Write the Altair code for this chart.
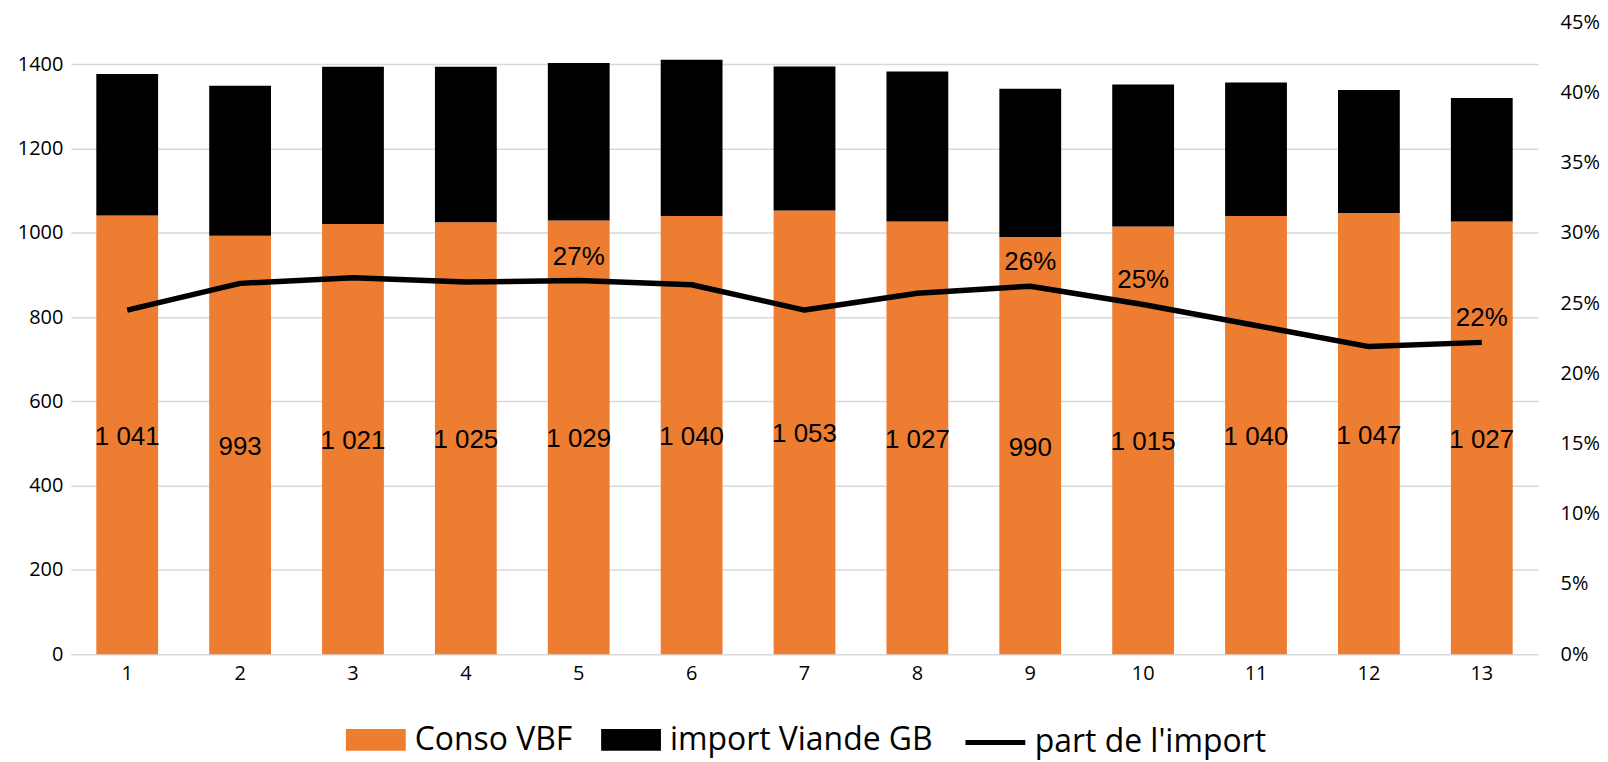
import altair as alt
import pandas as pd

# ---- data ----
PERIODS = ["1", "2", "3", "4", "5", "6", "7", "8", "9", "10", "11", "12", "13"]
CONSO_VBF = [1041, 993, 1021, 1025, 1029, 1040, 1053, 1027, 990, 1015, 1040, 1047, 1027]
IMPORT_GB = [336, 356, 373, 369, 374, 371, 342, 356, 352, 337, 317, 292, 293]
PART_IMPORT = [0.245, 0.264, 0.268, 0.265, 0.266, 0.263, 0.245, 0.257, 0.262, 0.249, 0.234, 0.219, 0.222]
PART_LABELS = ["", "", "", "", "27%", "", "", "", "26%", "25%", "", "", "22%"]
SERIES = ["Conso VBF", "import Viande GB", "part de l'import"]
COLORS = ["#ED7D31", "#000000", "#000000"]
Y_TICKS = [0, 200, 400, 600, 800, 1000, 1200, 1400]
PCT_TICKS = [0, 0.05, 0.1, 0.15, 0.2, 0.25, 0.3, 0.35, 0.4, 0.45]

bars_df = pd.DataFrame({
    "period": PERIODS * 2,
    "series": [SERIES[0]] * len(PERIODS) + [SERIES[1]] * len(PERIODS),
    "value": CONSO_VBF + IMPORT_GB,
    "stackorder": [0] * len(PERIODS) + [1] * len(PERIODS),
})
conso_df = pd.DataFrame({"period": PERIODS, "conso": CONSO_VBF})
line_df = pd.DataFrame({
    "period": PERIODS,
    "part": PART_IMPORT,
    "label": PART_LABELS,
    "series": [SERIES[2]] * len(PERIODS),
})

AXIS_FONT = "Open Sans"
LABEL_FONT = "Liberation Sans, Arial, sans-serif"

x_enc = alt.X(
    "period:O",
    sort=PERIODS,
    scale=alt.Scale(paddingInner=0.4525, paddingOuter=0.226),
    axis=alt.Axis(title=None, labelAngle=0, domain=False, ticks=False,
                  labelPadding=9, labelFont=AXIS_FONT, labelFontSize=20,
                  labelColor="#000000"),
)
left_scale = alt.Scale(domain=[0, 1500], nice=False, zero=True)
right_scale = alt.Scale(domain=[0, 0.45], nice=False, zero=True)

bars = alt.Chart(bars_df).mark_bar().encode(
    x=x_enc,
    y=alt.Y("value:Q", stack="zero", scale=left_scale,
            axis=alt.Axis(title=None, values=Y_TICKS, format="d", grid=True,
                          gridColor="#d9d9d9", gridWidth=1.5, domain=False,
                          ticks=False, labelPadding=8, labelFont=AXIS_FONT,
                          labelFontSize=20, labelColor="#000000")),
    color=alt.Color("series:N",
                    scale=alt.Scale(domain=SERIES[:2], range=COLORS[:2]),
                    legend=alt.Legend(title=None, orient="none", legendX=276,
                                      legendY=690, direction="horizontal",
                                      symbolType="M-1,-0.367H1V0.367H-1Z",
                                      symbolSize=3600, symbolStrokeWidth=0,
                                      symbolOpacity=1,
                                      labelFont=AXIS_FONT, labelFontSize=32,
                                      labelColor="#000000", labelOffset=9,
                                      columnPadding=28, labelLimit=400)),
    order=alt.Order("stackorder:Q"),
)

conso_labels = alt.Chart(conso_df).transform_calculate(
    txt="replace(format(datum.conso, ','), ',', ' ')",
    mid="datum.conso / 2",
).mark_text(font=LABEL_FONT, fontSize=26, color="#000000",
            baseline="middle", dy=2).encode(
    x=x_enc,
    y=alt.Y("mid:Q", scale=left_scale),
    text="txt:N",
)

left = alt.layer(bars, conso_labels)

line = alt.Chart(line_df).mark_line(strokeWidth=5.5, strokeJoin="round").encode(
    x=x_enc,
    y=alt.Y("part:Q", scale=right_scale,
            axis=alt.Axis(orient="right", title=None, values=PCT_TICKS,
                          format=".0%", grid=False, domain=False, ticks=False,
                          labelPadding=22, labelFont=AXIS_FONT,
                          labelFontSize=20, labelColor="#000000")),
    stroke=alt.Stroke("series:N",
                      scale=alt.Scale(domain=[SERIES[2]], range=[COLORS[2]]),
                      legend=alt.Legend(title=None, orient="none", legendX=895,
                                        legendY=690, symbolType="stroke",
                                        symbolSize=3600, symbolStrokeWidth=5,
                                        labelFont=AXIS_FONT, labelFontSize=32,
                                        labelColor="#000000", labelOffset=7,
                                        labelLimit=400)),
)

pct_labels = alt.Chart(line_df).transform_filter(
    "datum.label != ''"
).mark_text(font=LABEL_FONT, fontSize=26, color="#000000",
            baseline="middle", dy=-24).encode(
    x=x_enc,
    y=alt.Y("part:Q", scale=right_scale),
    text="label:N",
)

right = alt.layer(line, pct_labels)

chart = alt.layer(left, right).resolve_scale(
    y="independent"
).properties(
    width=1472,
    height=634,
    autosize=alt.AutoSizeParams(type="none"),
    padding={"left": 63, "top": 13, "right": 62, "bottom": 112},
).configure_view(stroke=None)

chart.save("out.html", embed_options={"renderer": "svg", "actions": False})
